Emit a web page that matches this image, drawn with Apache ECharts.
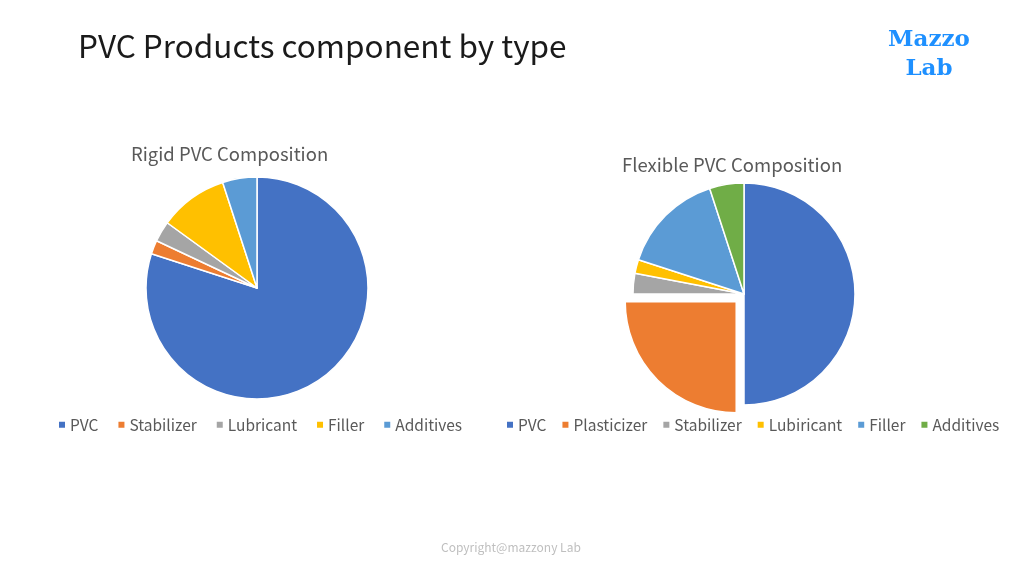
<html lang="en">
	<head>
		<meta charset="UTF-8" />
		<script src="https://cdn.jsdelivr.net/npm/echarts@6/dist/echarts.min.js"></script>
		<title>PVC Products component by type</title>
		<style>
			* {
				padding: 0;
				margin: 0;
			}
		</style>
	</head>

	<body>
		<div id="main" style="width:1024px;height:576px"></div>
		<script>
			// data
			var rigidNames = ["PVC", "Stabilizer", "Lubricant", "Filler", "Additives"]
			var rigidValues = [80, 2, 3, 10, 5]
			var rigidColors = ["#4472C4", "#ED7D31", "#A5A5A5", "#FFC000", "#5B9BD5"]

			var flexNames = ["PVC", "Plasticizer", "Stabilizer", "Lubiricant", "Filler", "Additives"]
			var flexValues = [50, 25, 3, 2, 15, 5]
			var flexColors = ["#4472C4", "#ED7D31", "#A5A5A5", "#FFC000", "#5B9BD5", "#70AD47"]
			var flexExploded = "Plasticizer"

			var font = "Noto Sans CJK JP"

			function pieData(names, values, colors, exploded) {
				return names.map(function(n, i) {
					return {
						name: n,
						value: values[i],
						selected: n === exploded,
						itemStyle: { color: colors[i] }
					}
				})
			}

			// legend colours set per item, both pies share some names
			function legend(names, colors, left, gap) {
				return {
					data: names.map(function(n, i) {
						return { name: n, itemStyle: { color: colors[i] } }
					}),
					left: left,
					top: 412,
					width: 540,
					icon: "rect",
					itemWidth: 8,
					itemHeight: 8,
					itemGap: gap,
					selectedMode: false,
					textStyle: { color: "#595959", fontSize: 15.5, fontFamily: font, padding: [0, 0, 0, -1] }
				}
			}

			function pie(center, data) {
				return {
					type: "pie",
					center: center,
					radius: 111,
					startAngle: 90,
					clockwise: true,
					selectedMode: "single",
					selectedOffset: 11,
					label: { show: false },
					labelLine: { show: false },
					emphasis: { disabled: true },
					itemStyle: { borderColor: "#fff", borderWidth: 1.5 },
					data: data
				}
			}

			var myChart = echarts.init(document.getElementById("main"))
			var option = {
				backgroundColor: "#ffffff",
				animation: false,
				textStyle: { fontFamily: font },
				title: [
					{
						text: "Rigid PVC Composition",
						left: 126,
						top: 140,
						textStyle: { color: "#595959", fontSize: 18.5, fontWeight: "normal", fontFamily: font }
					},
					{
						text: "Flexible PVC Composition",
						left: 617,
						top: 151,
						textStyle: { color: "#595959", fontSize: 18.5, fontWeight: "normal", fontFamily: font }
					}
				],
				legend: [legend(rigidNames, rigidColors, 52, 18), legend(flexNames, flexColors, 500, 14)],
				graphic: [
					{
						type: "text",
						left: 78,
						top: 30,
						style: { text: "PVC Products component by type", fill: "#1a1a1a", font: "31.5px 'Noto Sans CJK JP'" }
					},
					{
						type: "text",
						x: 929,
						y: 26,
						style: {
							text: "Mazzo\nLab",
							fill: "#1e90ff",
							align: "center",
							lineHeight: 29,
							font: "bold 23px 'DejaVu Serif'"
						}
					},
					{
						type: "text",
						left: 441,
						top: 541,
						style: { text: "Copyright@mazzony Lab", fill: "#bfbfbf", font: "12px 'Noto Sans CJK JP'" }
					}
				],
				series: [
					pie([257, 288], pieData(rigidNames, rigidValues, rigidColors, null)),
					pie([744, 294], pieData(flexNames, flexValues, flexColors, flexExploded))
				]
			}
			myChart.setOption(option)
		</script>
	</body>
</html>
